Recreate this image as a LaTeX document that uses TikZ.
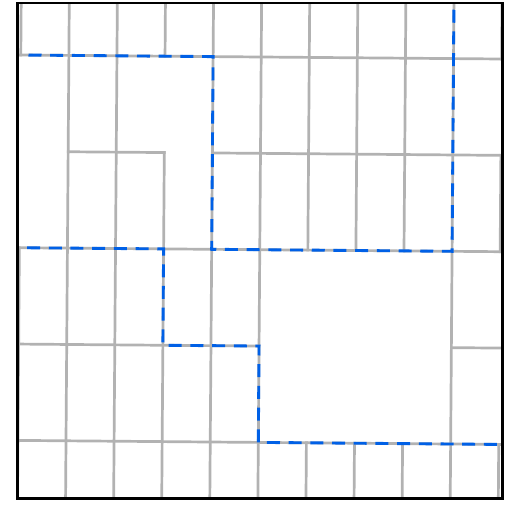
\documentclass[tikz,border=0pt]{standalone}
\usepackage{tikz}

\definecolor{meshgray}{RGB}{178,178,178}
\definecolor{cutblue}{RGB}{0,96,230}

\tikzset{
  meshline/.style={meshgray, line width=2.7pt, line cap=rect},
  cutline/.style={cutblue, line width=2.9pt, dash pattern=on 13pt off 8.7pt, dash phase=14pt},
  frameline/.style={black, line width=2.5pt}
}

\begin{document}
\begin{tikzpicture}[x=1pt,y=-1pt]
\useasboundingbox (0,0) rectangle (529,506);

% frame corners
\coordinate (tl) at (17.3,3);
\coordinate (br) at (502.5,498.5);

\begin{scope}
\clip (tl) rectangle (br);
% slightly tilted mesh, one unit = one cell
\begin{scope}[shift={(20.8,55)}, x={(48.08pt,-0.4pt)}, y={(-0.72pt,-96.35pt)}]

% vertical mesh lines
\foreach \i in {1,2,4,5,9}
    \draw[meshline] (\i,-1) -- (\i,5);
\foreach \i in {6,7,8} {
    \draw[meshline] (\i,-1) -- (\i,2);
    \draw[meshline] (\i,4) -- (\i,5);
}
\draw[meshline] (0,-1) -- (0,0) (0,2) -- (0,5);
\draw[meshline] (3,-1) -- (3,0) (3,1) -- (3,5);
\draw[meshline] (10,-1) -- (10,0) (10,1) -- (10,2) (10,4) -- (10,5);

% horizontal mesh lines
\foreach \j in {0,2,4}
    \draw[meshline] (-1,\j) -- (11,\j);
\draw[meshline] (1,1) -- (3,1) (4,1) -- (11,1);
\draw[meshline] (-1,3) -- (5,3) (9,3) -- (11,3);

% dashed boundaries
\draw[cutline] (0,0) -- (4,0) -- (4,2) -- (9,2) -- (9,-1);
\draw[cutline] (0,2) -- (3,2) -- (3,3) -- (5,3) -- (5,4) -- (10,4);

\end{scope}
\end{scope}

% outer frame
\draw[frameline] (tl) rectangle (br);
\end{tikzpicture}
\end{document}
